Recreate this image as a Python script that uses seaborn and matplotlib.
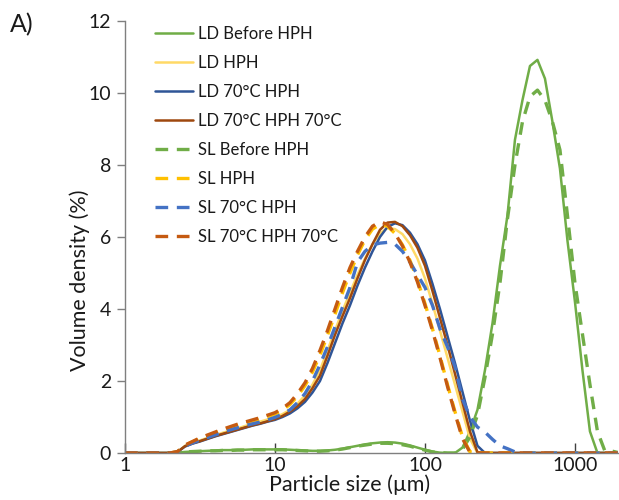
import numpy as np
import pandas as pd
import matplotlib
matplotlib.use("Agg")
import matplotlib.pyplot as plt
import seaborn as sns

# Particle size bins (log-spaced, 0.05 decade steps from 1 to ~2000 um)
sizes = np.round(10 ** (np.arange(67) * 0.05), 4)

ld_before = [0, 0, 0, 0, 0, 0, 0, 0.01, 0.03, 0.04, 0.05, 0.06, 0.07, 0.08, 0.08, 0.09, 0.09, 0.1, 0.1, 0.1,
             0.1, 0.1, 0.09, 0.08, 0.07, 0.06, 0.06, 0.07, 0.09, 0.12, 0.16, 0.2, 0.24, 0.27, 0.29, 0.3, 0.29, 0.26, 0.21, 0.15,
             0.09, 0.04, 0.01, 0, 0, 0.15, 0.6, 1.2, 2.3, 3.6, 5.2, 6.6, 8.7, 9.8, 10.75, 10.92, 10.4, 9.2, 7.9, 5.9,
             4.2, 2.3, 0.6, 0, 0, 0, 0]
ld_hph = [0, 0, 0, 0, 0, 0, 0, 0.03, 0.2, 0.28, 0.35, 0.42, 0.49, 0.56, 0.62, 0.68, 0.75, 0.81, 0.87, 0.93,
          0.99, 1.08, 1.2, 1.37, 1.6, 1.9, 2.3, 2.85, 3.4, 3.95, 4.45, 4.95, 5.4, 5.8, 6.1, 6.25, 6.22, 6.08, 5.8, 5.4,
          4.85, 4.15, 3.4, 2.65, 1.9, 1.15, 0.4, 0, 0, 0, 0, 0, 0, 0, 0, 0, 0, 0, 0, 0,
          0, 0, 0, 0, 0, 0, 0]
ld_70_hph = [0, 0, 0, 0, 0, 0, 0, 0.03, 0.18, 0.26, 0.32, 0.39, 0.46, 0.52, 0.58, 0.64, 0.7, 0.76, 0.81, 0.87,
             0.92, 1.0, 1.1, 1.24, 1.42, 1.68, 2.0, 2.5, 3.05, 3.6, 4.1, 4.65, 5.15, 5.6, 6.0, 6.28, 6.38, 6.33, 6.12, 5.8,
             5.35, 4.7, 4.0, 3.25, 2.5, 1.7, 0.9, 0.2, 0, 0, 0, 0, 0, 0, 0, 0, 0, 0, 0, 0,
             0, 0, 0, 0, 0, 0, 0]
ld_70_hph_70 = [0, 0, 0, 0, 0, 0, 0, 0.03, 0.19, 0.27, 0.33, 0.4, 0.47, 0.53, 0.59, 0.65, 0.71, 0.77, 0.82, 0.88,
                0.94, 1.03, 1.15, 1.3, 1.5, 1.8, 2.15, 2.7, 3.28, 3.8, 4.3, 4.85, 5.36, 5.8, 6.2, 6.4, 6.42, 6.3, 6.05, 5.7,
                5.2, 4.5, 3.75, 3.0, 2.2, 1.4, 0.6, 0.02, 0, 0, 0, 0, 0, 0, 0, 0, 0, 0, 0, 0,
                0, 0, 0, 0, 0, 0, 0]
sl_before = [0, 0, 0, 0, 0, 0, 0, 0.01, 0.03, 0.04, 0.05, 0.06, 0.06, 0.07, 0.07, 0.08, 0.08, 0.09, 0.09, 0.09,
             0.09, 0.09, 0.08, 0.07, 0.06, 0.05, 0.05, 0.06, 0.08, 0.11, 0.15, 0.19, 0.22, 0.25, 0.27, 0.27, 0.26, 0.23, 0.19, 0.13,
             0.08, 0.03, 0.01, 0, 0, 0.1, 0.45, 1.05, 2.1, 3.3, 4.72, 6.5, 8.0, 9.2, 9.9, 10.08, 9.8, 9.2, 8.42, 6.6,
             4.72, 3.3, 1.9, 0.6, 0.05, 0.05, 0]
sl_hph = [0, 0, 0, 0, 0, 0, 0, 0.04, 0.21, 0.31, 0.4, 0.48, 0.56, 0.63, 0.7, 0.77, 0.83, 0.89, 0.95, 1.01,
          1.08, 1.19, 1.35, 1.58, 1.87, 2.25, 2.72, 3.27, 3.85, 4.45, 5.0, 5.5, 5.92, 6.22, 6.35, 6.3, 6.1, 5.78, 5.35, 4.8,
          4.15, 3.45, 2.7, 1.9, 1.15, 0.45, 0.03, 0, 0, 0, 0, 0, 0, 0, 0, 0, 0, 0, 0, 0,
          0, 0, 0, 0, 0, 0, 0]
sl_70_hph = [0, 0, 0, 0, 0, 0, 0, 0.03, 0.19, 0.28, 0.36, 0.43, 0.5, 0.57, 0.64, 0.7, 0.76, 0.81, 0.86, 0.92,
             0.99, 1.08, 1.2, 1.4, 1.65, 2.0, 2.45, 2.95, 3.5, 4.05, 4.6, 5.3, 5.6, 5.78, 5.83, 5.85, 5.8, 5.6, 5.3, 4.95,
             4.6, 4.1, 3.45, 2.95, 2.4, 1.5, 1.0, 0.72, 0.58, 0.38, 0.2, 0.12, 0.03, 0, 0, 0, 0, 0, 0, 0,
             0, 0, 0, 0, 0, 0, 0]
sl_70_hph_70 = [0, 0, 0, 0, 0, 0, 0, 0.04, 0.22, 0.32, 0.42, 0.5, 0.58, 0.66, 0.73, 0.8, 0.86, 0.92, 0.98, 1.05,
                1.12, 1.24, 1.4, 1.65, 1.95, 2.35, 2.85, 3.4, 4.0, 4.6, 5.15, 5.6, 6.0, 6.3, 6.42, 6.35, 6.1, 5.75, 5.3, 4.75,
                4.1, 3.4, 2.65, 1.85, 1.1, 0.4, 0.02, 0, 0, 0, 0, 0, 0, 0, 0, 0, 0, 0, 0, 0,
                0, 0, 0, 0, 0, 0, 0]

labels = ["LD Before HPH", "LD HPH", "LD 70°C HPH", "LD 70°C HPH 70°C",
          "SL Before HPH", "SL HPH", "SL 70°C HPH", "SL 70°C HPH 70°C"]
series = [ld_before, ld_hph, ld_70_hph, ld_70_hph_70,
          sl_before, sl_hph, sl_70_hph, sl_70_hph_70]
colors = ["#70AD47", "#FFD966", "#2F5597", "#9E480E",
          "#70AD47", "#FFC000", "#4472C4", "#C55A11"]
dashed = [False, False, False, False, True, True, True, True]

sns.set_theme(style="white")
plt.rcParams["font.family"] = ["Lato", "DejaVu Sans"]

fig = plt.figure(figsize=(6.19, 5.0), dpi=100)
ax = fig.add_axes([125 / 619, 1 - 453 / 500, 493 / 619, 432 / 500])

for lab, vals, col, dsh in zip(labels, series, colors, dashed):
    df = pd.DataFrame({"size": sizes, "value": vals})
    if dsh:
        sns.lineplot(data=df, x="size", y="value", ax=ax, color=col, label=lab,
                     linewidth=2.4, linestyle=(0, (3.8, 2.6)), sort=True)
    else:
        sns.lineplot(data=df, x="size", y="value", ax=ax, color=col, label=lab,
                     linewidth=1.8, sort=True)

ax.set_xscale("log")
ax.set_xlim(1, 10 ** 3.287)
ax.set_ylim(0, 12)
ax.set_yticks([0, 2, 4, 6, 8, 10, 12])
ax.set_xticks([1, 10, 100, 1000])
ax.set_xticklabels(["1", "10", "100", "1000"])
ax.xaxis.set_minor_locator(matplotlib.ticker.NullLocator())

for s in ["top", "right"]:
    ax.spines[s].set_visible(False)
for s in ["left", "bottom"]:
    ax.spines[s].set_color("#7f7f7f")
    ax.spines[s].set_linewidth(1.0)

ax.tick_params(axis="y", direction="out", length=6, width=1, color="#7f7f7f",
               labelsize=14, pad=4, labelcolor="#1a1a1a", left=True)
ax.tick_params(axis="x", direction="in", length=7, width=1, color="#404040",
               labelsize=14, pad=3, labelcolor="#1a1a1a", bottom=True)

ax.set_xlabel("Particle size (µm)", fontsize=15.5, color="#1a1a1a")
ax.set_ylabel("Volume density (%)", fontsize=15.5, color="#1a1a1a")
ax.xaxis.set_label_coords(0.456, -0.050)
ax.yaxis.set_label_coords(-0.072, 0.40)

leg = ax.legend(loc="upper left", bbox_to_anchor=(155 / 619, 1 - 26 / 500),
                bbox_transform=fig.transFigure, frameon=False, fontsize=12,
                handlelength=2.3, handletextpad=0.3, labelspacing=0.78,
                borderpad=0, borderaxespad=0)
for t in leg.get_texts():
    t.set_color("#1a1a1a")

fig.text(10 / 619, 1 - 25 / 500, "A)", fontsize=18, color="#1a1a1a", va="center", ha="left")

fig.savefig("out.png", dpi=100)
